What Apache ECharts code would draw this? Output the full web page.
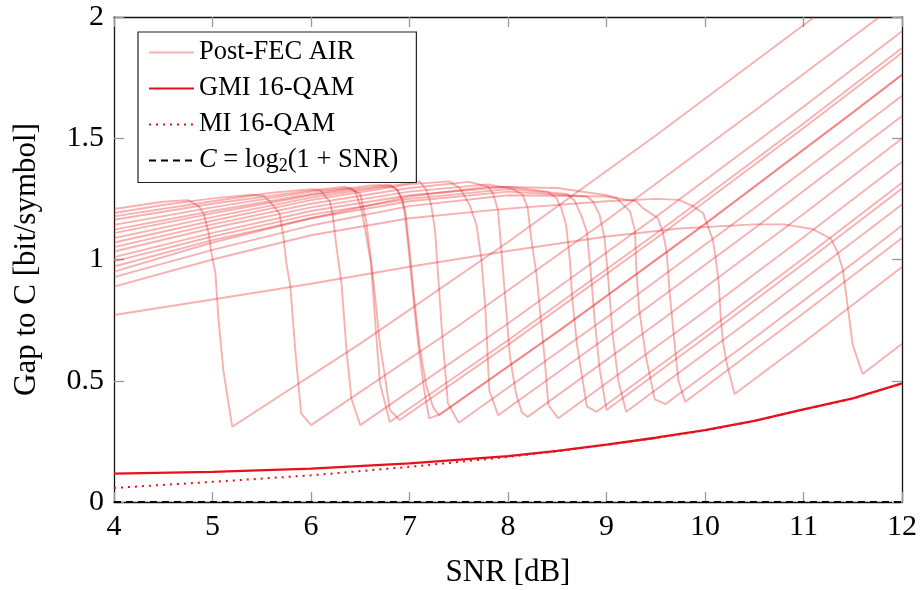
<!DOCTYPE html>
<html>
<head>
<meta charset="utf-8">
<script src="https://cdn.jsdelivr.net/npm/echarts@6/dist/echarts.min.js"></script>
<style>html,body{margin:0;padding:0;background:#fff}#c{width:922px;height:590px}</style>
</head>
<body>
<div id="c"></div>
<script>
// ---- data (SNR [dB], gap to C [bit/symbol]) ----
const xTicks = [4, 5, 6, 7, 8, 9, 10, 11, 12];
const yTicks = [0, 0.5, 1, 1.5, 2];

const air52 = [[4,1.208],[4.5,1.238],[4.75,1.245],[4.86,1.22],[4.91,1.19],[4.96,1.11],[4.99,1.026],[5.03,0.944],[5.06,0.758],[5.11,0.544],[5.2,0.31],[6.5,0.653],[8,1.072],[9.5,1.511],[11.11,2.0]];
const air60 = [[4,1.192],[4.5,1.225],[5,1.252],[5.4,1.267],[5.52,1.262],[5.58,1.24],[5.68,1.19],[5.72,1.095],[5.75,0.985],[5.79,0.89],[5.84,0.627],[5.9,0.365],[6.0,0.317],[7.5,0.728],[9,1.162],[10.5,1.612],[11.77,2.0]];
const air65 = [[4,1.178],[5,1.24],[5.6,1.275],[6.0,1.29],[6.09,1.287],[6.19,1.24],[6.22,1.185],[6.26,1.047],[6.31,0.9],[6.36,0.627],[6.41,0.427],[6.5,0.317],[8,0.736],[9.5,1.175],[11,1.63],[12,1.941]];
const air68 = [[4,1.164],[5,1.23],[6,1.285],[6.35,1.3],[6.45,1.28],[6.51,1.21],[6.56,1.1],[6.61,0.98],[6.66,0.7],[6.7,0.49],[6.8,0.33],[8,0.667],[9.5,1.106],[11,1.561],[12,1.872]];
const air69 = [[4,1.143],[5,1.215],[6,1.28],[6.4,1.295],[6.5,1.27],[6.56,1.157],[6.6,1.03],[6.65,0.85],[6.7,0.65],[6.75,0.52],[6.8,0.38],[6.9,0.338],[8,0.648],[9.5,1.087],[11,1.542],[12,1.853]];
const air72 = [[4,1.123],[5,1.2],[6,1.27],[6.6,1.305],[6.8,1.308],[6.87,1.29],[6.92,1.25],[6.95,1.198],[6.99,1.047],[7.04,0.84],[7.07,0.72],[7.1,0.613],[7.15,0.46],[7.2,0.345],[7.3,0.36],[8.5,0.702],[10,1.147],[11.5,1.607],[12,1.763]];
const air73 = [[4,1.109],[5,1.19],[6,1.265],[6.7,1.302],[6.82,1.3],[6.88,1.285],[6.93,1.245],[6.96,1.19],[7.0,1.04],[7.05,0.83],[7.1,0.65],[7.17,0.48],[7.24,0.39],[7.3,0.358],[8.5,0.7],[10,1.145],[11.5,1.605],[12,1.761]];
const air75 = [[4,1.088],[5,1.175],[6,1.255],[7,1.315],[7.1,1.322],[7.17,1.288],[7.22,1.226],[7.26,1.116],[7.29,0.937],[7.33,0.7],[7.39,0.407],[7.5,0.327],[9,0.761],[10.5,1.211],[12,1.675]];
const air79 = [[4,1.07],[5,1.16],[6,1.245],[7,1.31],[7.4,1.322],[7.51,1.295],[7.61,1.226],[7.68,1.143],[7.73,1.0],[7.77,0.8],[7.81,0.46],[7.9,0.358],[9,0.678],[10.5,1.128],[12,1.592]];
const air82 = [[4,1.051],[5,1.145],[6,1.23],[7,1.295],[7.6,1.32],[7.8,1.3],[7.85,1.27],[7.9,1.2],[7.93,1.05],[7.97,0.85],[8.02,0.6],[8.08,0.45],[8.14,0.37],[8.2,0.351],[9.5,0.733],[11,1.188],[12,1.499]];
const air85 = [[4,1.033],[5,1.13],[6,1.215],[7,1.28],[7.8,1.31],[8.05,1.29],[8.15,1.267],[8.2,1.212],[8.24,1.074],[8.29,0.937],[8.32,0.81],[8.37,0.6],[8.41,0.4],[8.51,0.345],[10,0.787],[11,1.092],[12,1.403]];
const air89 = [[4,1.01],[5,1.11],[6,1.2],[7,1.265],[8,1.3],[8.4,1.28],[8.49,1.254],[8.54,1.212],[8.59,1.143],[8.63,0.99],[8.65,0.85],[8.7,0.65],[8.8,0.394],[8.9,0.372],[10,0.7],[11,1.005],[12,1.316]];
const air90 = [[4,0.992],[5,1.095],[6,1.185],[7,1.25],[8,1.29],[8.6,1.27],[8.68,1.24],[8.74,1.185],[8.8,1.116],[8.84,0.95],[8.88,0.75],[8.93,0.55],[9.0,0.379],[10,0.677],[11,0.982],[12,1.293]];
const air92 = [[4,0.971],[5,1.08],[6,1.17],[7,1.24],[8,1.28],[8.8,1.26],[8.86,1.24],[8.93,1.185],[8.98,1.088],[9.02,0.909],[9.06,0.7],[9.12,0.5],[9.2,0.372],[10.5,0.763],[12,1.227]];
const air96 = [[4,0.95],[5,1.07],[6,1.17],[7,1.26],[7.8,1.3],[8.5,1.295],[9.0,1.265],[9.1,1.254],[9.24,1.198],[9.29,1.116],[9.3,0.978],[9.33,0.8],[9.4,0.6],[9.49,0.423],[9.6,0.404],[10.5,0.676],[11.5,0.984],[12,1.14]];
const air98 = [[4,0.927],[5,1.04],[6,1.14],[7,1.22],[8,1.265],[9,1.26],[9.3,1.24],[9.37,1.212],[9.52,1.171],[9.57,1.116],[9.61,1.033],[9.64,0.868],[9.68,0.7],[9.73,0.5],[9.8,0.413],[11,0.778],[12,1.089]];
const air103 = [[4,0.888],[5,1.0],[6,1.1],[7,1.17],[8,1.21],[9,1.24],[9.5,1.25],[9.74,1.246],[9.88,1.219],[9.98,1.192],[10.03,1.136],[10.08,1.081],[10.11,1.0],[10.14,0.9],[10.16,0.764],[10.18,0.668],[10.22,0.572],[10.3,0.445],[11,0.658],[12,0.969]];
const air116 = [[4,0.771],[5,0.835],[6,0.9],[7,0.97],[8,1.035],[9,1.095],[9.74,1.128],[10.5,1.145],[10.8,1.145],[11.09,1.126],[11.28,1.085],[11.35,1.026],[11.4,0.957],[11.5,0.648],[11.6,0.528],[12,0.653]];
const airCurves = [air52, air60, air65, air68, air69, air72, air73, air75, air79, air82, air85, air89, air90, air92, air96, air98, air103, air116];

const gmiSnr = [4, 5, 6, 7, 8, 8.5, 9, 9.5, 10, 10.5, 11, 11.5, 12];
const gmiGap = [0.117, 0.124, 0.138, 0.159, 0.189, 0.211, 0.237, 0.265, 0.296, 0.335, 0.382, 0.427, 0.489];
const miSnr = [4, 5, 6, 7, 7.5, 8, 8.5, 9, 9.5, 10, 10.5, 11, 11.5, 12];
const miGap = [0.058, 0.083, 0.11, 0.145, 0.165, 0.186, 0.209, 0.236, 0.264, 0.295, 0.334, 0.381, 0.426, 0.488];
const capSnr = [4, 12];
const capGap = [0, 0];

const names = ['Post-FEC AIR', 'GMI 16-QAM', 'MI 16-QAM', 'C = log2(1 + SNR)'];

// ---- chart ----
const font = 'Liberation Serif';
const pair = (xs, ys) => xs.map((x, i) => [x, ys[i]]);
const series = [];
airCurves.forEach(c => series.push({
  name: names[0], type: 'line', data: c, showSymbol: false, symbol: 'none',
  lineStyle: { color: 'rgba(232,40,40,0.36)', width: 1.9 }, itemStyle: { color: '#f5acac' },
  silent: true, z: 2
}));
series.push({ name: names[1], type: 'line', data: pair(gmiSnr, gmiGap), symbol: 'none', smooth: false,
  lineStyle: { color: '#e8101a', width: 2.3 }, itemStyle: { color: '#e8101a' }, z: 5 });
series.push({ name: names[2], type: 'line', data: pair(miSnr, miGap), symbol: 'none',
  lineStyle: { color: '#e8101a', width: 2, type: [2, 5] }, itemStyle: { color: '#e8101a' }, z: 4 });
series.push({ name: names[3], type: 'line', data: pair(capSnr, capGap), symbol: 'none',
  lineStyle: { color: '#000', width: 2, type: [7, 5] }, itemStyle: { color: '#000' }, z: 6 });

const axisBase = {
  min: 4, max: 12, interval: 1, type: 'value',
  axisLine: { show: true, onZero: false, lineStyle: { color: '#111', width: 1.3 } },
  axisTick: { show: true, inside: true, length: 10, lineStyle: { color: '#999', width: 1.3 } },
  splitLine: { show: false }
};
const chart = echarts.init(document.getElementById('c'), null, { renderer: 'canvas' });
chart.setOption({
  animation: false,
  backgroundColor: '#fff',
  grid: { left: 114, right: 20, top: 17, bottom: 88, containLabel: false, outerBoundsMode: 'none' },
  legend: {
    data: names, orient: 'vertical', left: 138, top: 32,
    backgroundColor: '#fff', borderColor: '#222', borderWidth: 1.2, borderRadius: 0,
    padding: [7, 18, 7, 10], itemGap: 9, itemWidth: 45, itemHeight: 12,
    selectedMode: false,
    itemStyle: { opacity: 0 },
    formatter: function (n) { return n === names[3] ? '{i|C} = log{s|2}(1 + SNR)' : n; },
    textStyle: { fontFamily: font, fontSize: 26.5, color: '#000', padding: [0, 0, 0, 0],
      rich: { i: { fontFamily: font, fontSize: 26.5, fontStyle: 'italic', color: '#000' },
              s: { fontFamily: font, fontSize: 18, color: '#000', padding: [12, 0, 0, 0] } } }
  },
  xAxis: [
    Object.assign({}, axisBase, { position: 'bottom', name: 'SNR [dB]', nameLocation: 'middle', nameGap: 55,
      nameTextStyle: { fontFamily: font, fontSize: 31, color: '#000' },
      axisLabel: { show: true, fontFamily: font, fontSize: 30, color: '#000', margin: 10,
        formatter: v => xTicks.includes(v) ? String(v) : '' } }),
    Object.assign({}, axisBase, { position: 'top', axisLabel: { show: false } })
  ],
  yAxis: [
    Object.assign({}, axisBase, { min: 0, max: 2, interval: 0.5, position: 'left', name: 'Gap to C [bit/symbol]',
      nameLocation: 'middle', nameGap: 72, nameTextStyle: { fontFamily: font, fontSize: 31, color: '#000' },
      axisLabel: { show: true, fontFamily: font, fontSize: 30, color: '#000', margin: 10,
        formatter: v => yTicks.includes(v) ? String(v) : '' } }),
    Object.assign({}, axisBase, { min: 0, max: 2, interval: 0.5, position: 'right', axisLabel: { show: false } })
  ],
  series: series
});
</script>
</body>
</html>
